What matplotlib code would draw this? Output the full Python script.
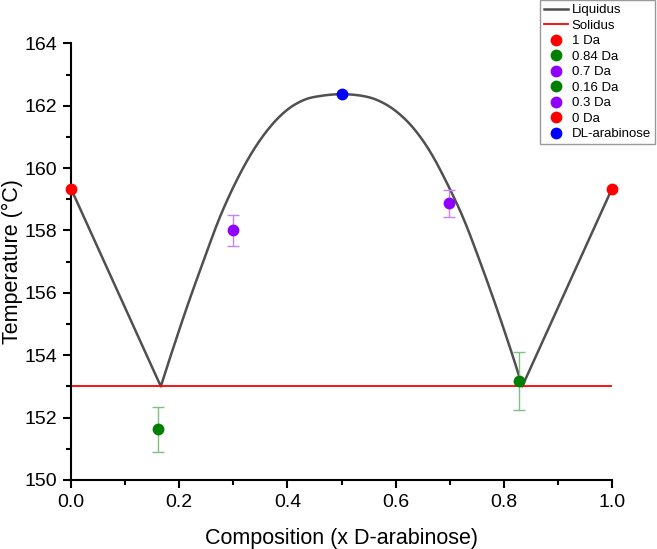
import numpy as np
import matplotlib
matplotlib.use("Agg")
import matplotlib.pyplot as plt
from matplotlib.ticker import MultipleLocator

plt.rcParams['font.family'] = ['Liberation Sans', 'DejaVu Sans']

# Liquidus, outer branches
left_x = [0.0, 0.166]
left_y = [159.34, 153.0]
right_x = [0.834, 1.0]
right_y = [153.0, 159.34]

# Liquidus, middle dome
dome_x = [0.166, 0.183, 0.214, 0.245, 0.275, 0.306, 0.337, 0.368, 0.399, 0.430, 0.460, 0.500,
          0.540, 0.570, 0.601, 0.632, 0.663, 0.694, 0.725, 0.755, 0.786, 0.817, 0.834]
dome_y = [153.0, 153.92, 155.53, 157.03, 158.42, 159.60, 160.57, 161.32, 161.86, 162.18, 162.31, 162.37,
          162.31, 162.15, 161.82, 161.30, 160.55, 159.55, 158.40, 157.05, 155.55, 153.95, 153.0]

# Solidus
sol_x = [0.0, 1.0]
sol_y = [153.0, 153.0]

# Measured points (legend order)
pt_labels = ['1 Da', '0.84 Da', '0.7 Da', '0.16 Da', '0.3 Da', '0 Da', 'DL-arabinose']
pt_x = [1.0, 0.829, 0.699, 0.160, 0.300, 0.0, 0.500]
pt_y = [159.34, 153.17, 158.87, 151.62, 158.0, 159.34, 162.37]
pt_err = [0.0, 0.92, 0.43, 0.73, 0.49, 0.0, 0.0]
pt_colors = ['#ff0000', '#007f00', '#8f00ff', '#007f00', '#8f00ff', '#ff0000', '#0000ff']
err_colors = ['#ff8080', '#80c080', '#c880ff', '#80c080', '#c880ff', '#ff8080', '#8080ff']


# Catmull-Rom smoothing so the dome is drawn like a spline connection
def smooth(xs, ys, n=12):
    p = np.column_stack([xs, ys])
    p = np.vstack([p[0], p, p[-1]])
    out = []
    t = np.linspace(0, 1, n, endpoint=False)[:, None]
    for i in range(1, len(p) - 2):
        p0, p1, p2, p3 = p[i - 1], p[i], p[i + 1], p[i + 2]
        seg = 0.5 * ((2 * p1) + (-p0 + p2) * t + (2 * p0 - 5 * p1 + 4 * p2 - p3) * t ** 2
                     + (-p0 + 3 * p1 - 3 * p2 + p3) * t ** 3)
        out.append(seg)
    out.append(p[-2][None, :])
    out = np.vstack(out)
    return out[:, 0], out[:, 1]


sx, sy = smooth(dome_x, dome_y)
liq_x = np.concatenate([left_x[:-1], sx, right_x[1:]])
liq_y = np.concatenate([left_y[:-1], sy, right_y[1:]])

fig = plt.figure(figsize=(6.57, 5.49), dpi=100)
ax = fig.add_axes([0.1081, 0.1257, 0.8234, 0.7954])

ax.plot(liq_x, liq_y, color='#505050', lw=1.8, label='Liquidus', zorder=2)
ax.plot(sol_x, sol_y, color='#ff0000', lw=1.3, label='Solidus', zorder=2)

for i in range(len(pt_x)):
    if pt_err[i] > 0:
        ax.errorbar(pt_x[i], pt_y[i], yerr=pt_err[i], fmt='none', ecolor=err_colors[i],
                    elinewidth=1.0, capsize=4, capthick=1.0, zorder=3)
    ax.plot(pt_x[i], pt_y[i], 'o', color=pt_colors[i], markersize=8.5, markeredgewidth=0,
            label=pt_labels[i], clip_on=False, zorder=4)

ax.set_xlim(0, 1)
ax.set_ylim(150, 164)
ax.xaxis.set_minor_locator(MultipleLocator(0.1))
ax.yaxis.set_major_locator(MultipleLocator(2))
ax.yaxis.set_minor_locator(MultipleLocator(1))
ax.set_xticks(np.arange(0, 1.01, 0.2))
ax.set_xticklabels(['0.0', '0.2', '0.4', '0.6', '0.8', '1.0'])

ax.spines['top'].set_visible(False)
ax.spines['right'].set_visible(False)
for s in ['left', 'bottom']:
    ax.spines[s].set_linewidth(1.5)
ax.tick_params(which='major', direction='out', length=6, width=1.5, labelsize=14, pad=4)
ax.tick_params(which='minor', direction='out', length=3.5, width=1.5)

ax.set_xlabel('Composition (x D-arabinose)', fontsize=15.5, labelpad=12)
ax.set_ylabel('Temperature (°C)', fontsize=15.5)
ax.yaxis.set_label_coords(-0.088, 0.5)

leg = fig.legend(loc='upper right', bbox_to_anchor=(0.997, 1.0), bbox_transform=fig.transFigure,
                 fontsize=9.5, frameon=True, fancybox=False, edgecolor='#808080',
                 labelspacing=0.25, handlelength=1.8, handletextpad=0.3, borderpad=0.3,
                 borderaxespad=0)
leg.get_frame().set_linewidth(1.0)

fig.savefig('out.png', dpi=100)
